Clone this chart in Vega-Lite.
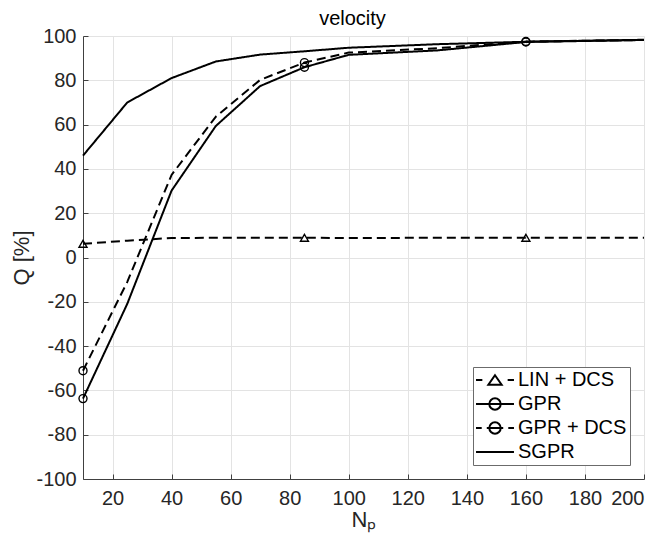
{
  "$schema": "https://vega.github.io/schema/vega-lite/v6.json",
  "width": 561,
  "height": 443,
  "autosize": {"type": "none"},
  "padding": {"left": 83, "top": 36, "right": 18, "bottom": 60},
  "background": "white",
  "title": {"text": "velocity", "fontSize": 20, "fontWeight": "normal", "font": "Liberation Sans", "color": "#000000", "frame": "group", "anchor": "middle", "offset": -3, "dx": -11},
  "data": {"values": [
    {"series": "LIN + DCS", "x": 10, "y": 6.2},
    {"series": "LIN + DCS", "x": 25, "y": 7.6},
    {"series": "LIN + DCS", "x": 40, "y": 8.8},
    {"series": "LIN + DCS", "x": 55, "y": 8.9},
    {"series": "LIN + DCS", "x": 70, "y": 8.9},
    {"series": "LIN + DCS", "x": 85, "y": 8.9},
    {"series": "LIN + DCS", "x": 100, "y": 8.8},
    {"series": "LIN + DCS", "x": 130, "y": 8.9},
    {"series": "LIN + DCS", "x": 160, "y": 8.9},
    {"series": "LIN + DCS", "x": 200, "y": 8.9},
    {"series": "GPR", "x": 10, "y": -63.7},
    {"series": "GPR", "x": 25, "y": -20.9},
    {"series": "GPR", "x": 40, "y": 30.2},
    {"series": "GPR", "x": 55, "y": 59.4},
    {"series": "GPR", "x": 70, "y": 77.4},
    {"series": "GPR", "x": 85, "y": 85.9},
    {"series": "GPR", "x": 100, "y": 91.5},
    {"series": "GPR", "x": 130, "y": 93.5},
    {"series": "GPR", "x": 160, "y": 97.3},
    {"series": "GPR", "x": 200, "y": 98.2},
    {"series": "GPR + DCS", "x": 10, "y": -51.1},
    {"series": "GPR + DCS", "x": 25, "y": -11},
    {"series": "GPR + DCS", "x": 40, "y": 37.3},
    {"series": "GPR + DCS", "x": 55, "y": 63.6},
    {"series": "GPR + DCS", "x": 70, "y": 80.2},
    {"series": "GPR + DCS", "x": 85, "y": 88},
    {"series": "GPR + DCS", "x": 100, "y": 92.5},
    {"series": "GPR + DCS", "x": 130, "y": 94.5},
    {"series": "GPR + DCS", "x": 160, "y": 97.5},
    {"series": "GPR + DCS", "x": 200, "y": 98.2},
    {"series": "SGPR", "x": 10, "y": 46},
    {"series": "SGPR", "x": 25, "y": 70},
    {"series": "SGPR", "x": 40, "y": 81},
    {"series": "SGPR", "x": 55, "y": 88.5},
    {"series": "SGPR", "x": 70, "y": 91.6},
    {"series": "SGPR", "x": 85, "y": 93.1},
    {"series": "SGPR", "x": 100, "y": 94.7},
    {"series": "SGPR", "x": 130, "y": 96.3},
    {"series": "SGPR", "x": 160, "y": 97.4},
    {"series": "SGPR", "x": 200, "y": 98.3}
  ]},
  "encoding": {
    "x": {"field": "x", "type": "quantitative",
      "scale": {"domain": [10, 200], "nice": false, "zero": false},
      "axis": {"title": "Nₚ", "values": [20, 40, 60, 80, 100, 120, 140, 160, 180, 200], "labelPadding": 14, "titlePadding": 1}},
    "y": {"field": "y", "type": "quantitative",
      "scale": {"domain": [-100, 100], "nice": false, "zero": false},
      "axis": {"title": "Q [%]", "values": [-100, -80, -60, -40, -20, 0, 20, 40, 60, 80, 100], "labelPadding": 12, "titlePadding": 2,
        "labelExpr": "datum.value < 0 ? '-' + abs(datum.value) : '' + datum.value"}}
  },
  "layer": [
    {
      "mark": {"type": "line", "color": "black", "strokeWidth": 2},
      "encoding": {
        "strokeDash": {"field": "series", "type": "nominal",
          "scale": {"domain": ["LIN + DCS", "GPR", "GPR + DCS", "SGPR"], "range": [[9, 5], [1, 0], [9, 5], [1, 0]]},
          "legend": null}
      }
    },
    {
      "transform": [{"filter": "datum.series != 'SGPR' && (datum.x == 10 || datum.x == 85 || datum.x == 160)"}],
      "mark": {"type": "point", "filled": false, "color": "black", "strokeWidth": 1.4, "opacity": 1, "size": 64},
      "encoding": {
        "shape": {"field": "series", "type": "nominal",
          "scale": {"domain": ["LIN + DCS", "GPR", "GPR + DCS"], "range": ["triangle-up", "circle", "circle"]},
          "legend": null}
      }
    },
    {
      "mark": {"type": "point", "filled": false, "color": "black", "opacity": 0, "strokeWidth": 2},
      "encoding": {
        "shape": {"field": "series", "type": "nominal",
          "scale": {"domain": ["LIN + DCS", "GPR", "GPR + DCS", "SGPR"],
            "range": [
              "M-3,0H-2M2,0H3M0,-0.75L1.05,0.75L-1.05,0.75Z",
              "M-3,0H3M0.9,0A0.9,0.9 0 1,0 -0.9,0A0.9,0.9 0 1,0 0.9,0",
              "M-3,0H-2.1M-1.3,0H1.3M2.1,0H3M0.9,0A0.9,0.9 0 1,0 -0.9,0A0.9,0.9 0 1,0 0.9,0",
              "M-3,0H3"
            ]},
          "legend": {
            "orient": "none", "legendX": 390, "legendY": 331, "title": null,
            "labelFontSize": 20, "labelFont": "Liberation Sans", "labelColor": "#000000",
            "symbolSize": 160, "symbolStrokeWidth": 2, "symbolStrokeColor": "black", "symbolFillColor": "transparent",
            "symbolOffset": 9, "labelOffset": 13, "padding": 3, "rowPadding": 4,
            "strokeColor": "#6b6b6b", "fillColor": "white",
            "labelExpr": "datum.label + '\u00a0\u00a0\u00a0'",
            "encode": {"symbols": {"update": {"opacity": {"value": 1}, "stroke": {"value": "black"}, "fill": {"value": "transparent"}, "strokeWidth": {"value": 2}}}}
          }}
      }
    }
  ],
  "resolve": {"scale": {"shape": "independent", "strokeDash": "independent"}, "legend": {"shape": "independent"}},
  "config": {
    "view": {"stroke": null},
    "font": "Liberation Sans",
    "axis": {
      "labelFont": "Liberation Sans", "labelFontSize": 20, "labelColor": "#262626",
      "titleFont": "Liberation Sans", "titleFontSize": 22, "titleFontWeight": "normal", "titleColor": "#262626",
      "domainColor": "#404040", "domainWidth": 1, "tickColor": "#404040", "tickSize": -5, "tickWidth": 1,
      "grid": true, "gridColor": "#e3e3e3", "gridWidth": 1
    }
  }
}
